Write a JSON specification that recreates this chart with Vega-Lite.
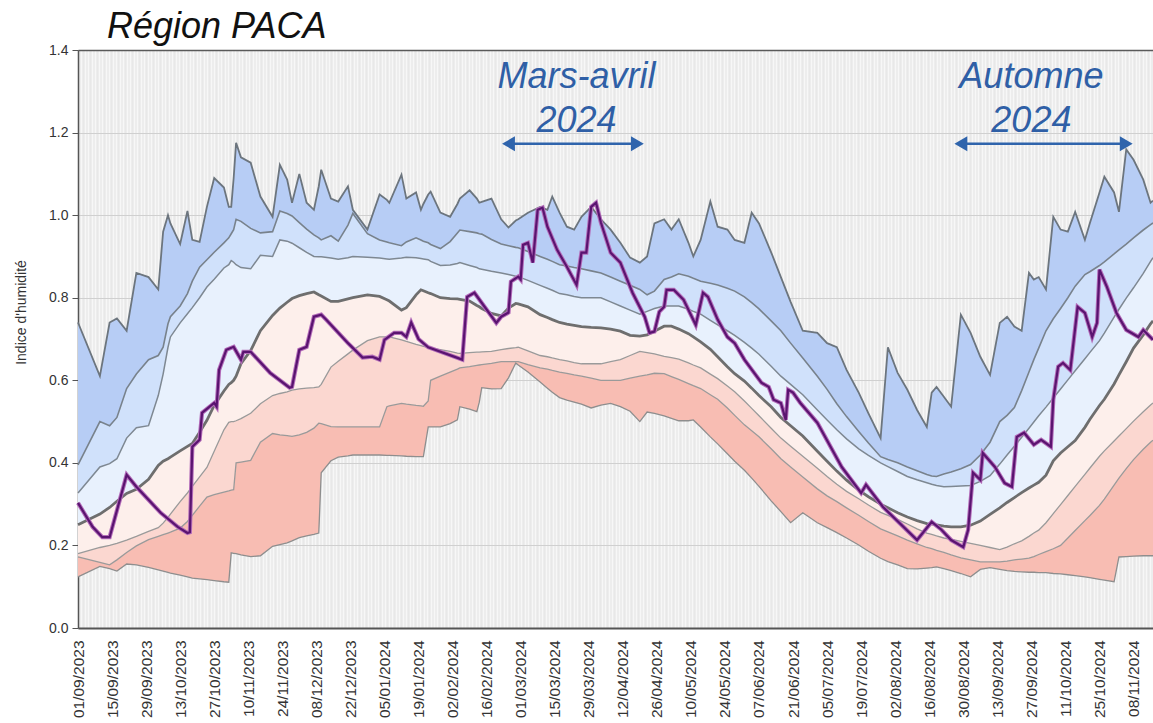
{
"$schema": "https://vega.github.io/schema/vega-lite/v6.json",
"width": 1075, "height": 578,
"autosize": "none",
"padding": {"left": 78, "top": 50, "right": 0, "bottom": 95},
"background": "white",
"config": {"font": "Liberation Sans", "view": {"fill": "#e8e8e8", "stroke": null}, "axis": {"labelOverlap": false}},
"title": {"text": "Région PACA", "anchor": "start", "frame": "group", "dx": 29, "offset": -3, "fontSize": 36, "fontStyle": "italic", "fontWeight": "normal", "color": "#111111", "font": "Liberation Sans"},
"datasets": {
"bands": [
{"date":"2023-09-01","min":0.124,"q10":0.172,"q25":0.18,"med":0.25,"q75":0.327,"q90":0.395,"max":0.74},
{"date":"2023-09-10","min":0.149,"q10":0.159,"q25":0.195,"med":0.276,"q75":0.39,"q90":0.5,"max":0.61},
{"date":"2023-09-14","min":0.144,"q10":0.153,"q25":0.2,"med":0.292,"q75":0.398,"q90":0.49,"max":0.74},
{"date":"2023-09-17","min":0.138,"q10":0.165,"q25":0.205,"med":0.307,"q75":0.41,"q90":0.51,"max":0.75},
{"date":"2023-09-21","min":0.155,"q10":0.183,"q25":0.213,"med":0.326,"q75":0.46,"q90":0.58,"max":0.72},
{"date":"2023-09-25","min":0.153,"q10":0.199,"q25":0.222,"med":0.336,"q75":0.485,"q90":0.615,"max":0.86},
{"date":"2023-09-30","min":0.147,"q10":0.214,"q25":0.234,"med":0.36,"q75":0.49,"q90":0.65,"max":0.85},
{"date":"2023-10-04","min":0.141,"q10":0.222,"q25":0.243,"med":0.394,"q75":0.563,"q90":0.66,"max":0.82},
{"date":"2023-10-06","min":0.138,"q10":0.226,"q25":0.254,"med":0.404,"q75":0.615,"q90":0.68,"max":0.96},
{"date":"2023-10-08","min":0.135,"q10":0.23,"q25":0.268,"med":0.41,"q75":0.68,"q90":0.737,"max":1.0},
{"date":"2023-10-09","min":0.133,"q10":0.232,"q25":0.276,"med":0.414,"q75":0.705,"q90":0.754,"max":0.98},
{"date":"2023-10-13","min":0.128,"q10":0.242,"q25":0.306,"med":0.429,"q75":0.739,"q90":0.78,"max":0.93},
{"date":"2023-10-16","min":0.124,"q10":0.258,"q25":0.327,"med":0.44,"q75":0.761,"q90":0.81,"max":1.01},
{"date":"2023-10-18","min":0.121,"q10":0.273,"q25":0.343,"med":0.447,"q75":0.776,"q90":0.84,"max":0.94},
{"date":"2023-10-21","min":0.119,"q10":0.295,"q25":0.366,"med":0.474,"q75":0.8,"q90":0.874,"max":0.935},
{"date":"2023-10-24","min":0.117,"q10":0.317,"q25":0.389,"med":0.503,"q75":0.826,"q90":0.892,"max":1.02},
{"date":"2023-10-27","min":0.115,"q10":0.323,"q25":0.428,"med":0.539,"q75":0.845,"q90":0.91,"max":1.09},
{"date":"2023-10-31","min":0.112,"q10":0.329,"q25":0.48,"med":0.574,"q75":0.872,"q90":0.933,"max":1.067},
{"date":"2023-11-02","min":0.111,"q10":0.332,"q25":0.498,"med":0.59,"q75":0.88,"q90":0.945,"max":1.02},
{"date":"2023-11-03","min":0.182,"q10":0.334,"q25":0.5,"med":0.594,"q75":0.89,"q90":0.955,"max":1.02},
{"date":"2023-11-04","min":0.181,"q10":0.335,"q25":0.5,"med":0.6,"q75":0.886,"q90":0.965,"max":1.09},
{"date":"2023-11-05","min":0.18,"q10":0.4,"q25":0.502,"med":0.61,"q75":0.88,"q90":0.99,"max":1.175},
{"date":"2023-11-07","min":0.177,"q10":0.402,"q25":0.507,"med":0.64,"q75":0.873,"q90":0.985,"max":1.14},
{"date":"2023-11-11","min":0.173,"q10":0.406,"q25":0.52,"med":0.672,"q75":0.87,"q90":0.968,"max":1.127},
{"date":"2023-11-15","min":0.175,"q10":0.45,"q25":0.543,"med":0.72,"q75":0.903,"q90":0.957,"max":1.045},
{"date":"2023-11-20","min":0.198,"q10":0.471,"q25":0.563,"med":0.757,"q75":0.9,"q90":0.96,"max":0.996},
{"date":"2023-11-23","min":0.202,"q10":0.468,"q25":0.568,"med":0.775,"q75":0.94,"q90":1.01,"max":1.122},
{"date":"2023-11-26","min":0.206,"q10":0.466,"q25":0.572,"med":0.789,"q75":0.937,"q90":1.004,"max":1.086},
{"date":"2023-11-28","min":0.211,"q10":0.464,"q25":0.576,"med":0.798,"q75":0.932,"q90":0.998,"max":1.03},
{"date":"2023-12-01","min":0.219,"q10":0.468,"q25":0.579,"med":0.805,"q75":0.921,"q90":0.982,"max":1.1},
{"date":"2023-12-04","min":0.223,"q10":0.474,"q25":0.581,"med":0.81,"q75":0.91,"q90":0.966,"max":1.03},
{"date":"2023-12-07","min":0.227,"q10":0.484,"q25":0.582,"med":0.814,"q75":0.9,"q90":0.952,"max":1.013},
{"date":"2023-12-09","min":0.23,"q10":0.496,"q25":0.584,"med":0.807,"q75":0.899,"q90":0.945,"max":1.07},
{"date":"2023-12-10","min":0.376,"q10":0.495,"q25":0.59,"med":0.804,"q75":0.899,"q90":0.94,"max":1.11},
{"date":"2023-12-14","min":0.405,"q10":0.488,"q25":0.632,"med":0.791,"q75":0.896,"q90":0.95,"max":1.04},
{"date":"2023-12-17","min":0.414,"q10":0.487,"q25":0.646,"med":0.791,"q75":0.893,"q90":0.937,"max":1.033},
{"date":"2023-12-21","min":0.417,"q10":0.487,"q25":0.664,"med":0.797,"q75":0.897,"q90":0.976,"max":1.07},
{"date":"2023-12-23","min":0.419,"q10":0.487,"q25":0.673,"med":0.8,"q75":0.9,"q90":1.004,"max":1.013},
{"date":"2023-12-29","min":0.419,"q10":0.487,"q25":0.696,"med":0.807,"q75":0.898,"q90":0.955,"max":0.965},
{"date":"2024-01-03","min":0.419,"q10":0.487,"q25":0.705,"med":0.803,"q75":0.896,"q90":0.94,"max":1.05},
{"date":"2024-01-06","min":0.418,"q10":0.536,"q25":0.705,"med":0.795,"q75":0.894,"q90":0.935,"max":1.037},
{"date":"2024-01-07","min":0.418,"q10":0.538,"q25":0.705,"med":0.792,"q75":0.893,"q90":0.933,"max":1.03},
{"date":"2024-01-12","min":0.417,"q10":0.544,"q25":0.698,"med":0.77,"q75":0.896,"q90":0.926,"max":1.098},
{"date":"2024-01-14","min":0.416,"q10":0.542,"q25":0.694,"med":0.776,"q75":0.898,"q90":0.935,"max":1.04},
{"date":"2024-01-18","min":0.415,"q10":0.539,"q25":0.687,"med":0.807,"q75":0.897,"q90":0.945,"max":1.055},
{"date":"2024-01-20","min":0.415,"q10":0.538,"q25":0.684,"med":0.819,"q75":0.895,"q90":0.94,"max":1.013},
{"date":"2024-01-21","min":0.415,"q10":0.537,"q25":0.682,"med":0.817,"q75":0.894,"q90":0.937,"max":1.027},
{"date":"2024-01-23","min":0.487,"q10":0.55,"q25":0.68,"med":0.812,"q75":0.892,"q90":0.933,"max":1.05},
{"date":"2024-01-24","min":0.487,"q10":0.6,"q25":0.678,"med":0.81,"q75":0.888,"q90":0.929,"max":1.057},
{"date":"2024-01-28","min":0.487,"q10":0.61,"q25":0.674,"med":0.8,"q75":0.878,"q90":0.919,"max":1.006},
{"date":"2024-02-01","min":0.495,"q10":0.62,"q25":0.67,"med":0.798,"q75":0.879,"q90":0.936,"max":0.996},
{"date":"2024-02-04","min":0.504,"q10":0.627,"q25":0.666,"med":0.797,"q75":0.883,"q90":0.957,"max":1.027},
{"date":"2024-02-05","min":0.536,"q10":0.63,"q25":0.665,"med":0.796,"q75":0.885,"q90":0.964,"max":1.04},
{"date":"2024-02-09","min":0.53,"q10":0.633,"q25":0.667,"med":0.792,"q75":0.878,"q90":0.96,"max":1.06},
{"date":"2024-02-12","min":0.524,"q10":0.636,"q25":0.668,"med":0.781,"q75":0.873,"q90":0.957,"max":1.04},
{"date":"2024-02-13","min":0.547,"q10":0.637,"q25":0.668,"med":0.778,"q75":0.87,"q90":0.955,"max":1.03},
{"date":"2024-02-14","min":0.582,"q10":0.638,"q25":0.669,"med":0.774,"q75":0.869,"q90":0.954,"max":1.032},
{"date":"2024-02-18","min":0.579,"q10":0.641,"q25":0.67,"med":0.762,"q75":0.864,"q90":0.941,"max":1.04},
{"date":"2024-02-22","min":0.58,"q10":0.645,"q25":0.674,"med":0.756,"q75":0.86,"q90":0.93,"max":0.99},
{"date":"2024-02-25","min":0.606,"q10":0.645,"q25":0.677,"med":0.775,"q75":0.856,"q90":0.926,"max":0.97},
{"date":"2024-02-28","min":0.642,"q10":0.645,"q25":0.679,"med":0.786,"q75":0.852,"q90":0.922,"max":0.987},
{"date":"2024-02-29","min":0.637,"q10":0.645,"q25":0.68,"med":0.785,"q75":0.851,"q90":0.921,"max":0.99},
{"date":"2024-03-04","min":0.62,"q10":0.638,"q25":0.671,"med":0.778,"q75":0.842,"q90":0.912,"max":1.006},
{"date":"2024-03-09","min":0.596,"q10":0.63,"q25":0.66,"med":0.759,"q75":0.83,"q90":0.9,"max":1.02},
{"date":"2024-03-12","min":0.581,"q10":0.627,"q25":0.657,"med":0.752,"q75":0.823,"q90":0.893,"max":1.013},
{"date":"2024-03-14","min":0.571,"q10":0.624,"q25":0.654,"med":0.747,"q75":0.818,"q90":0.888,"max":1.045},
{"date":"2024-03-17","min":0.558,"q10":0.62,"q25":0.65,"med":0.74,"q75":0.81,"q90":0.88,"max":1.006},
{"date":"2024-03-20","min":0.552,"q10":0.617,"q25":0.647,"med":0.736,"q75":0.807,"q90":0.877,"max":0.972},
{"date":"2024-03-23","min":0.547,"q10":0.613,"q25":0.643,"med":0.733,"q75":0.803,"q90":0.873,"max":0.965},
{"date":"2024-03-26","min":0.542,"q10":0.61,"q25":0.64,"med":0.73,"q75":0.8,"q90":0.87,"max":0.996},
{"date":"2024-03-30","min":0.533,"q10":0.605,"q25":0.64,"med":0.728,"q75":0.8,"q90":0.865,"max":1.02},
{"date":"2024-04-03","min":0.54,"q10":0.6,"q25":0.64,"med":0.727,"q75":0.8,"q90":0.86,"max":0.99},
{"date":"2024-04-07","min":0.544,"q10":0.6,"q25":0.645,"med":0.724,"q75":0.79,"q90":0.85,"max":0.965},
{"date":"2024-04-11","min":0.536,"q10":0.6,"q25":0.65,"med":0.719,"q75":0.78,"q90":0.84,"max":0.933},
{"date":"2024-04-15","min":0.525,"q10":0.605,"q25":0.66,"med":0.709,"q75":0.77,"q90":0.83,"max":0.897},
{"date":"2024-04-19","min":0.5,"q10":0.61,"q25":0.67,"med":0.707,"q75":0.76,"q90":0.82,"max":0.885},
{"date":"2024-04-22","min":0.523,"q10":0.613,"q25":0.667,"med":0.71,"q75":0.767,"q90":0.807,"max":0.9},
{"date":"2024-04-25","min":0.52,"q10":0.617,"q25":0.664,"med":0.719,"q75":0.774,"q90":0.816,"max":0.98},
{"date":"2024-04-29","min":0.514,"q10":0.616,"q25":0.658,"med":0.731,"q75":0.78,"q90":0.844,"max":0.99},
{"date":"2024-05-02","min":0.508,"q10":0.609,"q25":0.655,"med":0.731,"q75":0.78,"q90":0.85,"max":0.965},
{"date":"2024-05-05","min":0.502,"q10":0.602,"q25":0.651,"med":0.724,"q75":0.78,"q90":0.858,"max":0.99},
{"date":"2024-05-09","min":0.502,"q10":0.592,"q25":0.642,"med":0.713,"q75":0.772,"q90":0.852,"max":0.933},
{"date":"2024-05-11","min":0.504,"q10":0.587,"q25":0.637,"med":0.705,"q75":0.767,"q90":0.847,"max":0.9},
{"date":"2024-05-14","min":0.487,"q10":0.58,"q25":0.63,"med":0.693,"q75":0.76,"q90":0.84,"max":0.94},
{"date":"2024-05-18","min":0.463,"q10":0.565,"q25":0.615,"med":0.675,"q75":0.745,"q90":0.835,"max":1.033},
{"date":"2024-05-21","min":0.446,"q10":0.554,"q25":0.604,"med":0.657,"q75":0.734,"q90":0.831,"max":0.972},
{"date":"2024-05-25","min":0.422,"q10":0.533,"q25":0.586,"med":0.633,"q75":0.72,"q90":0.823,"max":0.965},
{"date":"2024-05-28","min":0.404,"q10":0.515,"q25":0.572,"med":0.616,"q75":0.709,"q90":0.816,"max":0.94},
{"date":"2024-06-01","min":0.382,"q10":0.492,"q25":0.55,"med":0.598,"q75":0.692,"q90":0.802,"max":0.933},
{"date":"2024-06-04","min":0.363,"q10":0.478,"q25":0.532,"med":0.581,"q75":0.678,"q90":0.788,"max":1.006},
{"date":"2024-06-07","min":0.343,"q10":0.463,"q25":0.514,"med":0.563,"q75":0.663,"q90":0.773,"max":0.98},
{"date":"2024-06-12","min":0.308,"q10":0.434,"q25":0.484,"med":0.536,"q75":0.634,"q90":0.744,"max":0.91},
{"date":"2024-06-16","min":0.282,"q10":0.41,"q25":0.46,"med":0.51,"q75":0.61,"q90":0.72,"max":0.85},
{"date":"2024-06-20","min":0.255,"q10":0.39,"q25":0.44,"med":0.49,"q75":0.59,"q90":0.69,"max":0.79},
{"date":"2024-06-25","min":0.279,"q10":0.366,"q25":0.416,"med":0.465,"q75":0.565,"q90":0.654,"max":0.72},
{"date":"2024-07-01","min":0.255,"q10":0.337,"q25":0.387,"med":0.428,"q75":0.528,"q90":0.61,"max":0.715},
{"date":"2024-07-05","min":0.243,"q10":0.32,"q25":0.367,"med":0.404,"q75":0.504,"q90":0.578,"max":0.69},
{"date":"2024-07-09","min":0.231,"q10":0.306,"q25":0.348,"med":0.38,"q75":0.48,"q90":0.543,"max":0.68},
{"date":"2024-07-13","min":0.218,"q10":0.291,"q25":0.331,"med":0.358,"q75":0.458,"q90":0.512,"max":0.625},
{"date":"2024-07-18","min":0.201,"q10":0.273,"q25":0.313,"med":0.334,"q75":0.434,"q90":0.476,"max":0.57},
{"date":"2024-07-22","min":0.186,"q10":0.258,"q25":0.298,"med":0.318,"q75":0.418,"q90":0.448,"max":0.52},
{"date":"2024-07-27","min":0.169,"q10":0.24,"q25":0.28,"med":0.3,"q75":0.4,"q90":0.415,"max":0.46},
{"date":"2024-07-30","min":0.161,"q10":0.233,"q25":0.273,"med":0.291,"q75":0.391,"q90":0.408,"max":0.68},
{"date":"2024-08-03","min":0.153,"q10":0.223,"q25":0.263,"med":0.279,"q75":0.379,"q90":0.4,"max":0.618},
{"date":"2024-08-07","min":0.144,"q10":0.213,"q25":0.252,"med":0.269,"q75":0.367,"q90":0.39,"max":0.577},
{"date":"2024-08-11","min":0.143,"q10":0.204,"q25":0.24,"med":0.26,"q75":0.359,"q90":0.381,"max":0.528},
{"date":"2024-08-15","min":0.145,"q10":0.195,"q25":0.23,"med":0.253,"q75":0.352,"q90":0.372,"max":0.487},
{"date":"2024-08-17","min":0.146,"q10":0.192,"q25":0.227,"med":0.252,"q75":0.348,"q90":0.368,"max":0.57},
{"date":"2024-08-19","min":0.148,"q10":0.188,"q25":0.223,"med":0.25,"q75":0.345,"q90":0.367,"max":0.584},
{"date":"2024-08-22","min":0.144,"q10":0.183,"q25":0.218,"med":0.247,"q75":0.342,"q90":0.373,"max":0.56},
{"date":"2024-08-25","min":0.139,"q10":0.177,"q25":0.215,"med":0.245,"q75":0.343,"q90":0.378,"max":0.536},
{"date":"2024-08-29","min":0.132,"q10":0.17,"q25":0.21,"med":0.245,"q75":0.344,"q90":0.386,"max":0.759},
{"date":"2024-09-02","min":0.124,"q10":0.165,"q25":0.205,"med":0.249,"q75":0.345,"q90":0.396,"max":0.715},
{"date":"2024-09-06","min":0.142,"q10":0.16,"q25":0.2,"med":0.259,"q75":0.355,"q90":0.419,"max":0.657},
{"date":"2024-09-10","min":0.146,"q10":0.16,"q25":0.195,"med":0.275,"q75":0.369,"q90":0.45,"max":0.613},
{"date":"2024-09-14","min":0.142,"q10":0.16,"q25":0.19,"med":0.291,"q75":0.397,"q90":0.5,"max":0.739},
{"date":"2024-09-17","min":0.139,"q10":0.162,"q25":0.196,"med":0.304,"q75":0.419,"q90":0.515,"max":0.754},
{"date":"2024-09-20","min":0.137,"q10":0.165,"q25":0.204,"med":0.316,"q75":0.44,"q90":0.534,"max":0.73},
{"date":"2024-09-23","min":0.136,"q10":0.167,"q25":0.211,"med":0.328,"q75":0.462,"q90":0.575,"max":0.72},
{"date":"2024-09-26","min":0.135,"q10":0.169,"q25":0.222,"med":0.339,"q75":0.484,"q90":0.62,"max":0.86},
{"date":"2024-09-28","min":0.135,"q10":0.173,"q25":0.23,"med":0.346,"q75":0.499,"q90":0.65,"max":0.844},
{"date":"2024-09-30","min":0.134,"q10":0.178,"q25":0.237,"med":0.353,"q75":0.514,"q90":0.678,"max":0.85},
{"date":"2024-10-03","min":0.134,"q10":0.185,"q25":0.255,"med":0.37,"q75":0.535,"q90":0.72,"max":0.82},
{"date":"2024-10-06","min":0.132,"q10":0.192,"q25":0.277,"med":0.405,"q75":0.557,"q90":0.749,"max":0.996},
{"date":"2024-10-09","min":0.131,"q10":0.2,"q25":0.299,"med":0.424,"q75":0.579,"q90":0.774,"max":0.965},
{"date":"2024-10-12","min":0.129,"q10":0.218,"q25":0.321,"med":0.439,"q75":0.601,"q90":0.8,"max":0.96},
{"date":"2024-10-15","min":0.127,"q10":0.236,"q25":0.343,"med":0.454,"q75":0.623,"q90":0.828,"max":1.008},
{"date":"2024-10-19","min":0.124,"q10":0.26,"q25":0.372,"med":0.486,"q75":0.652,"q90":0.856,"max":0.94},
{"date":"2024-10-21","min":0.122,"q10":0.272,"q25":0.387,"med":0.505,"q75":0.667,"q90":0.863,"max":0.98},
{"date":"2024-10-25","min":0.118,"q10":0.297,"q25":0.416,"med":0.539,"q75":0.696,"q90":0.878,"max":1.055},
{"date":"2024-10-27","min":0.116,"q10":0.312,"q25":0.429,"med":0.554,"q75":0.714,"q90":0.887,"max":1.093},
{"date":"2024-10-31","min":0.112,"q10":0.346,"q25":0.453,"med":0.591,"q75":0.753,"q90":0.906,"max":1.055},
{"date":"2024-11-02","min":0.172,"q10":0.363,"q25":0.465,"med":0.613,"q75":0.772,"q90":0.916,"max":1.008},
{"date":"2024-11-05","min":0.173,"q10":0.386,"q25":0.483,"med":0.645,"q75":0.799,"q90":0.93,"max":1.159},
{"date":"2024-11-08","min":0.174,"q10":0.408,"q25":0.501,"med":0.678,"q75":0.824,"q90":0.945,"max":1.134},
{"date":"2024-11-12","min":0.175,"q10":0.433,"q25":0.524,"med":0.71,"q75":0.859,"q90":0.964,"max":1.086},
{"date":"2024-11-15","min":0.175,"q10":0.45,"q25":0.54,"med":0.737,"q75":0.888,"q90":0.977,"max":1.03},
{"date":"2024-11-16","min":0.175,"q10":0.455,"q25":0.545,"med":0.744,"q75":0.897,"q90":0.981,"max":1.035}
],
"obs": [
{"date":"2023-09-01","v":0.303},{"date":"2023-09-07","v":0.245},{"date":"2023-09-11","v":0.22},{"date":"2023-09-14","v":0.22},{"date":"2023-09-21","v":0.371},{"date":"2023-09-25","v":0.342},{"date":"2023-10-05","v":0.279},{"date":"2023-10-12","v":0.245},{"date":"2023-10-16","v":0.23},{"date":"2023-10-17","v":0.232},{"date":"2023-10-18","v":0.439},{"date":"2023-10-21","v":0.456},{"date":"2023-10-22","v":0.521},{"date":"2023-10-27","v":0.545},{"date":"2023-10-28","v":0.536},{"date":"2023-10-29","v":0.625},{"date":"2023-11-01","v":0.674},{"date":"2023-11-04","v":0.681},{"date":"2023-11-07","v":0.65},{"date":"2023-11-08","v":0.669},{"date":"2023-11-11","v":0.669},{"date":"2023-11-19","v":0.618},{"date":"2023-11-27","v":0.582},{"date":"2023-11-28","v":0.584},{"date":"2023-12-01","v":0.674},{"date":"2023-12-04","v":0.681},{"date":"2023-12-07","v":0.754},{"date":"2023-12-10","v":0.759},{"date":"2023-12-12","v":0.747},{"date":"2023-12-21","v":0.69},{"date":"2023-12-27","v":0.655},{"date":"2023-12-31","v":0.657},{"date":"2024-01-03","v":0.65},{"date":"2024-01-05","v":0.698},{"date":"2024-01-09","v":0.715},{"date":"2024-01-12","v":0.715},{"date":"2024-01-14","v":0.705},{"date":"2024-01-16","v":0.74},{"date":"2024-01-19","v":0.7},{"date":"2024-01-23","v":0.68},{"date":"2024-02-06","v":0.65},{"date":"2024-02-08","v":0.802},{"date":"2024-02-11","v":0.812},{"date":"2024-02-20","v":0.739},{"date":"2024-02-22","v":0.754},{"date":"2024-02-25","v":0.764},{"date":"2024-02-26","v":0.839},{"date":"2024-02-29","v":0.851},{"date":"2024-03-01","v":0.844},{"date":"2024-03-02","v":0.928},{"date":"2024-03-04","v":0.933},{"date":"2024-03-06","v":0.885},{"date":"2024-03-08","v":1.013},{"date":"2024-03-10","v":1.018},{"date":"2024-03-12","v":0.972},{"date":"2024-03-16","v":0.916},{"date":"2024-03-20","v":0.875},{"date":"2024-03-24","v":0.831},{"date":"2024-03-26","v":0.909},{"date":"2024-03-28","v":0.909},{"date":"2024-03-30","v":1.02},{"date":"2024-04-01","v":1.03},{"date":"2024-04-03","v":0.982},{"date":"2024-04-07","v":0.909},{"date":"2024-04-11","v":0.885},{"date":"2024-04-16","v":0.812},{"date":"2024-04-21","v":0.754},{"date":"2024-04-23","v":0.715},{"date":"2024-04-25","v":0.718},{"date":"2024-04-27","v":0.766},{"date":"2024-04-29","v":0.778},{"date":"2024-04-30","v":0.819},{"date":"2024-05-03","v":0.819},{"date":"2024-05-07","v":0.795},{"date":"2024-05-12","v":0.734},{"date":"2024-05-15","v":0.812},{"date":"2024-05-17","v":0.802},{"date":"2024-05-21","v":0.747},{"date":"2024-05-25","v":0.705},{"date":"2024-05-28","v":0.69},{"date":"2024-06-01","v":0.65},{"date":"2024-06-08","v":0.594},{"date":"2024-06-11","v":0.584},{"date":"2024-06-13","v":0.553},{"date":"2024-06-16","v":0.545},{"date":"2024-06-18","v":0.504},{"date":"2024-06-19","v":0.577},{"date":"2024-06-21","v":0.57},{"date":"2024-06-24","v":0.545},{"date":"2024-07-01","v":0.497},{"date":"2024-07-11","v":0.39},{"date":"2024-07-19","v":0.327},{"date":"2024-07-21","v":0.347},{"date":"2024-07-28","v":0.293},{"date":"2024-08-11","v":0.213},{"date":"2024-08-17","v":0.257},{"date":"2024-08-21","v":0.238},{"date":"2024-08-25","v":0.213},{"date":"2024-08-30","v":0.196},{"date":"2024-09-01","v":0.238},{"date":"2024-09-03","v":0.376},{"date":"2024-09-06","v":0.359},{"date":"2024-09-07","v":0.424},{"date":"2024-09-12","v":0.39},{"date":"2024-09-16","v":0.351},{"date":"2024-09-19","v":0.342},{"date":"2024-09-21","v":0.463},{"date":"2024-09-24","v":0.473},{"date":"2024-09-28","v":0.444},{"date":"2024-10-01","v":0.456},{"date":"2024-10-05","v":0.439},{"date":"2024-10-06","v":0.553},{"date":"2024-10-08","v":0.633},{"date":"2024-10-10","v":0.642},{"date":"2024-10-13","v":0.625},{"date":"2024-10-16","v":0.778},{"date":"2024-10-19","v":0.763},{"date":"2024-10-22","v":0.705},{"date":"2024-10-24","v":0.739},{"date":"2024-10-25","v":0.868},{"date":"2024-10-28","v":0.827},{"date":"2024-11-01","v":0.763},{"date":"2024-11-05","v":0.722},{"date":"2024-11-10","v":0.705},{"date":"2024-11-12","v":0.722},{"date":"2024-11-16","v":0.698}
]
},
"resolve": {"scale": {"x": "independent"}, "axis": {"x": "independent"}},
"layer": [
{
"data": {"name": "obs"},
"mark": {"type": "rule", "opacity": 0},
"encoding": {
"x": {"field": "v", "type": "quantitative", "scale": {"domain": [0, 308], "nice": false, "zero": false},
"axis": {"orient": "top", "grid": true, "gridColor": "#f7f7f7", "gridWidth": 1.6, "tickCount": 308, "labels": false, "ticks": false, "domain": true, "domainColor": "#5a5a5a", "domainWidth": 1.5, "title": null}}
}
},
{
"layer": [
{"data": {"name": "bands"}, "mark": {"type": "area", "color": "#f8bdb3", "opacity": 1},
"encoding": {
"x": {"field": "date", "type": "temporal", "title": null,
"scale": {"type": "utc", "domain": [{"year": 2023, "month": 9, "date": 1, "utc": true}, {"year": 2024, "month": 11, "date": 16, "utc": true}]},
"axis": {"values": [
{"year":2023,"month":9,"date":1,"utc":true},{"year":2023,"month":9,"date":15,"utc":true},{"year":2023,"month":9,"date":29,"utc":true},{"year":2023,"month":10,"date":13,"utc":true},{"year":2023,"month":10,"date":27,"utc":true},{"year":2023,"month":11,"date":10,"utc":true},{"year":2023,"month":11,"date":24,"utc":true},{"year":2023,"month":12,"date":8,"utc":true},{"year":2023,"month":12,"date":22,"utc":true},{"year":2024,"month":1,"date":5,"utc":true},{"year":2024,"month":1,"date":19,"utc":true},{"year":2024,"month":2,"date":2,"utc":true},{"year":2024,"month":2,"date":16,"utc":true},{"year":2024,"month":3,"date":1,"utc":true},{"year":2024,"month":3,"date":15,"utc":true},{"year":2024,"month":3,"date":29,"utc":true},{"year":2024,"month":4,"date":12,"utc":true},{"year":2024,"month":4,"date":26,"utc":true},{"year":2024,"month":5,"date":10,"utc":true},{"year":2024,"month":5,"date":24,"utc":true},{"year":2024,"month":6,"date":7,"utc":true},{"year":2024,"month":6,"date":21,"utc":true},{"year":2024,"month":7,"date":5,"utc":true},{"year":2024,"month":7,"date":19,"utc":true},{"year":2024,"month":8,"date":2,"utc":true},{"year":2024,"month":8,"date":16,"utc":true},{"year":2024,"month":8,"date":30,"utc":true},{"year":2024,"month":9,"date":13,"utc":true},{"year":2024,"month":9,"date":27,"utc":true},{"year":2024,"month":10,"date":11,"utc":true},{"year":2024,"month":10,"date":25,"utc":true},{"year":2024,"month":11,"date":8,"utc":true}],
"tickCount": 60,
"format": "%d/%m/%Y", "labelAngle": 270, "labelFontSize": 15.5, "labelColor": "#333333", "labelPadding": 12, "ticks": false, "domainColor": "#555555", "domainWidth": 2, "grid": false, "labelOverlap": false, "labelFlush": false, "labelBound": false}},
"y": {"field": "min", "type": "quantitative", "title": "Indice d'humidité",
"scale": {"domain": [0, 1.4], "nice": false, "zero": true},
"axis": {"values": [0, 0.2, 0.4, 0.6, 0.8, 1.0, 1.2, 1.4], "format": ".1f", "labelFontSize": 14, "labelColor": "#333333", "tickColor": "#555555", "tickSize": 6, "labelPadding": 4, "domainColor": "#555555", "domainWidth": 1.5, "grid": true, "gridColor": "#d0d0d0", "gridWidth": 1, "titleFontSize": 14, "titleFontWeight": "normal", "titleColor": "#333333", "titlePadding": 20, "titleY": 262}},
"y2": {"field": "q10"}
}},
{"data": {"name": "bands"}, "mark": {"type": "area", "color": "#fbd7d0"},
"encoding": {"x": {"field": "date", "type": "temporal"}, "y": {"field": "q10", "type": "quantitative", "title": "Indice d'humidité"}, "y2": {"field": "q25"}}},
{"data": {"name": "bands"}, "mark": {"type": "area", "color": "#fdefeb"},
"encoding": {"x": {"field": "date", "type": "temporal"}, "y": {"field": "q25", "type": "quantitative", "title": "Indice d'humidité"}, "y2": {"field": "med"}}},
{"data": {"name": "bands"}, "mark": {"type": "area", "color": "#e8f1fd"},
"encoding": {"x": {"field": "date", "type": "temporal"}, "y": {"field": "med", "type": "quantitative", "title": "Indice d'humidité"}, "y2": {"field": "q75"}}},
{"data": {"name": "bands"}, "mark": {"type": "area", "color": "#d0e1fb"},
"encoding": {"x": {"field": "date", "type": "temporal"}, "y": {"field": "q75", "type": "quantitative", "title": "Indice d'humidité"}, "y2": {"field": "q90"}}},
{"data": {"name": "bands"}, "mark": {"type": "area", "color": "#b7cdf5"},
"encoding": {"x": {"field": "date", "type": "temporal"}, "y": {"field": "q90", "type": "quantitative", "title": "Indice d'humidité"}, "y2": {"field": "max"}}},
{"data": {"name": "bands"}, "mark": {"type": "line", "color": "#8e8e8e", "strokeWidth": 1.3},
"encoding": {"x": {"field": "date", "type": "temporal"}, "y": {"field": "min", "type": "quantitative", "title": "Indice d'humidité"}}},
{"data": {"name": "bands"}, "mark": {"type": "line", "color": "#9a9a9a", "strokeWidth": 1.3},
"encoding": {"x": {"field": "date", "type": "temporal"}, "y": {"field": "q10", "type": "quantitative", "title": "Indice d'humidité"}}},
{"data": {"name": "bands"}, "mark": {"type": "line", "color": "#9a9a9a", "strokeWidth": 1.3},
"encoding": {"x": {"field": "date", "type": "temporal"}, "y": {"field": "q25", "type": "quantitative", "title": "Indice d'humidité"}}},
{"data": {"name": "bands"}, "mark": {"type": "line", "color": "#7e8892", "strokeWidth": 1.5},
"encoding": {"x": {"field": "date", "type": "temporal"}, "y": {"field": "q75", "type": "quantitative", "title": "Indice d'humidité"}}},
{"data": {"name": "bands"}, "mark": {"type": "line", "color": "#78828c", "strokeWidth": 1.6},
"encoding": {"x": {"field": "date", "type": "temporal"}, "y": {"field": "q90", "type": "quantitative", "title": "Indice d'humidité"}}},
{"data": {"name": "bands"}, "mark": {"type": "line", "color": "#6c757e", "strokeWidth": 1.8},
"encoding": {"x": {"field": "date", "type": "temporal"}, "y": {"field": "max", "type": "quantitative", "title": "Indice d'humidité"}}},
{"data": {"name": "bands"}, "mark": {"type": "line", "color": "#6e6e6e", "strokeWidth": 2.8},
"encoding": {"x": {"field": "date", "type": "temporal"}, "y": {"field": "med", "type": "quantitative", "title": "Indice d'humidité"}}},
{"data": {"name": "obs"}, "mark": {"type": "line", "color": "#b36cb9", "strokeWidth": 4.2},
"encoding": {"x": {"field": "date", "type": "temporal"}, "y": {"field": "v", "type": "quantitative", "title": "Indice d'humidité"}}},
{"data": {"name": "obs"}, "mark": {"type": "line", "color": "#5a1470", "strokeWidth": 2.2},
"encoding": {"x": {"field": "date", "type": "temporal"}, "y": {"field": "v", "type": "quantitative", "title": "Indice d'humidité"}}},
{"data": {"values": [{"s": "2024-02-25", "e": "2024-04-18", "v": 1.173}, {"s": "2024-08-29", "e": "2024-11-05", "v": 1.173}]},
"mark": {"type": "rule", "color": "#2f64ac", "strokeWidth": 2.5},
"encoding": {"x": {"field": "s", "type": "temporal"}, "x2": {"field": "e"}, "y": {"field": "v", "type": "quantitative", "title": "Indice d'humidité"}}},
{"data": {"values": [{"date": "2024-02-25", "v": 1.173}, {"date": "2024-08-29", "v": 1.173}]},
"mark": {"type": "point", "shape": "triangle-left", "filled": true, "color": "#2f64ac", "size": 220, "opacity": 1},
"encoding": {"x": {"field": "date", "type": "temporal"}, "y": {"field": "v", "type": "quantitative", "title": "Indice d'humidité"}}},
{"data": {"values": [{"date": "2024-04-18", "v": 1.173}, {"date": "2024-11-05", "v": 1.173}]},
"mark": {"type": "point", "shape": "triangle-right", "filled": true, "color": "#2f64ac", "size": 220, "opacity": 1},
"encoding": {"x": {"field": "date", "type": "temporal"}, "y": {"field": "v", "type": "quantitative", "title": "Indice d'humidité"}}},
{"data": {"values": [{"date": "2024-03-24", "v": 1.309, "t": "Mars-avril"}, {"date": "2024-03-24", "v": 1.202, "t": "2024"}, {"date": "2024-09-27", "v": 1.309, "t": "Automne"}, {"date": "2024-09-27", "v": 1.202, "t": "2024"}]},
"mark": {"type": "text", "font": "Liberation Sans", "fontStyle": "italic", "fontSize": 36, "color": "#2f5fa6", "align": "center", "baseline": "alphabetic"},
"encoding": {"x": {"field": "date", "type": "temporal"}, "y": {"field": "v", "type": "quantitative", "title": "Indice d'humidité"}, "text": {"field": "t"}}}
]
}
]
}
